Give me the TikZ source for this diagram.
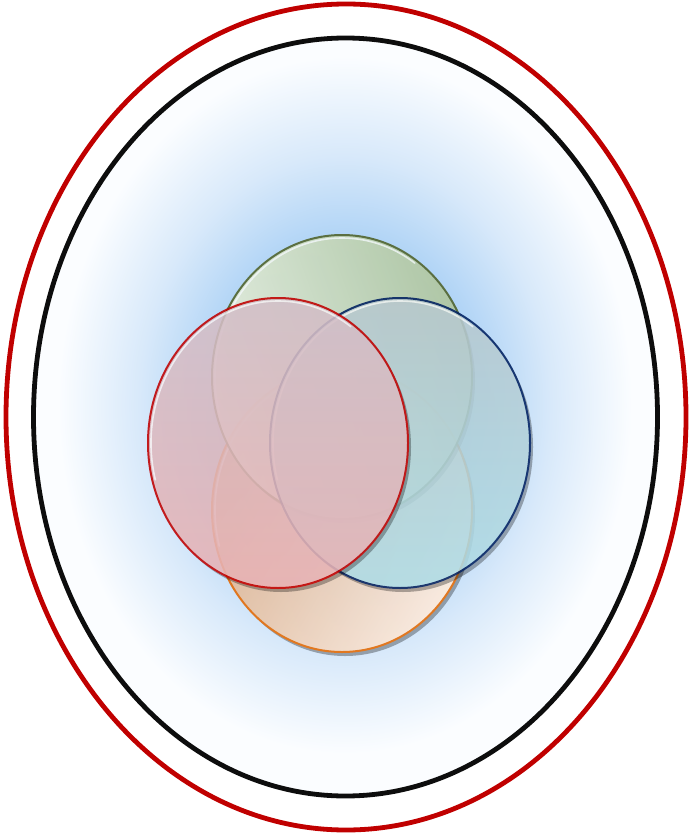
\documentclass[tikz,border=0pt]{standalone}
\usetikzlibrary{fadings}
\definecolor{bgA}{HTML}{A9D0F5}
\definecolor{bgB}{HTML}{D8E9FA}
\definecolor{bgC}{HTML}{FBFDFF}
\definecolor{outerred}{HTML}{C00000}
\definecolor{innerblack}{HTML}{0D0D0D}
\definecolor{grB}{HTML}{4F6228}
\definecolor{orB}{HTML}{E36C09}
\definecolor{rdB}{HTML}{C00000}
\definecolor{blB}{HTML}{002060}
\definecolor{grL}{HTML}{EEF4E2}
\definecolor{grD}{HTML}{AFC59B}
\definecolor{orL}{HTML}{FDEBDD}
\definecolor{orD}{HTML}{D8A983}
\definecolor{rdT}{HTML}{D2BFC8}
\definecolor{rdU}{HTML}{E8B2B4}
\definecolor{blT}{HTML}{B8C8CE}
\definecolor{blU}{HTML}{AEDCE6}
\pgfdeclareradialshading{bgshade}{\pgfpoint{0bp}{0bp}}{color(0bp)=(bgA); color(10bp)=(bgA); color(16.5bp)=(bgB); color(23bp)=(bgC); color(25bp)=(bgC); color(50bp)=(bgC)}
\tikzset{
  ring/.style={line width=4.8pt},
  vborder/.style={line width=2pt},
  vshadow/.style={fill=black, opacity=0.35},
  vshine/.style={white, line width=1.6pt, opacity=0.75, line cap=round}
}
\newcommand\vennshape[6]{%
  % #1 cx, #2 cy, #3 ry, #4 border colour, #5 shading options, #6 opacity
  \begin{scope}[transparency group, opacity=#6]
    \fill[vshadow] ({#1+3},{#2+4}) ellipse [x radius=130, y radius=#3];
    \shade[#5] (#1,#2) ellipse [x radius=130, y radius=#3];
    \draw[vshine] ({#1+127*cos(165)},{#2+(#3-3)*sin(165)}) arc [start angle=165, end angle=305, x radius=127, y radius={#3-3}];
    \draw[vborder, #4] (#1,#2) ellipse [x radius=130, y radius=#3];
  \end{scope}}
\begin{document}
\begin{tikzpicture}[x=1pt, y=-1pt]
  \useasboundingbox (0,0) rectangle (695,837);
  % background inside the black ellipse
  \begin{scope}
    \clip (345.5,417) ellipse [x radius=312, y radius=379];
    \fill[bgC] (0,0) rectangle (695,837);
    \shade[shading=bgshade] (345,405) ellipse [x radius=312, y radius=379];
  \end{scope}
  % Venn ellipses
  \vennshape{342}{510}{142}{orB}{left color=orD, right color=orL, shading angle=60}{0.9}
  \vennshape{342}{377}{142}{grB}{left color=grL, right color=grD, shading angle=110}{0.88}
  \vennshape{400}{443}{145}{blB}{top color=blT, bottom color=blU}{0.88}
  \vennshape{278}{443}{145}{rdB}{top color=rdT, bottom color=rdU}{0.88}
  % rings
  \draw[ring, innerblack] (345.5,417) ellipse [x radius=312, y radius=379];
  \draw[ring, outerred] (346,417) ellipse [x radius=340, y radius=413];
\end{tikzpicture}
\end{document}
